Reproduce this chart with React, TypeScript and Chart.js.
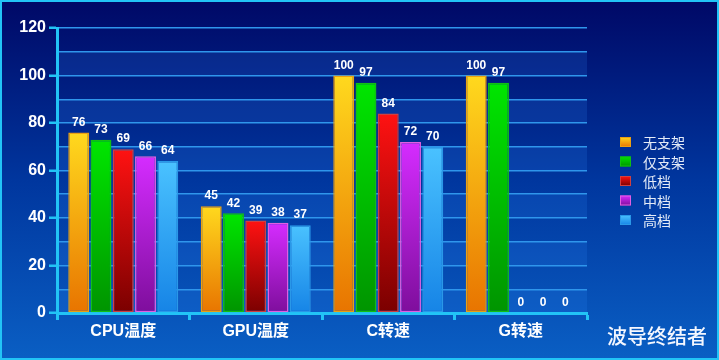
import React, { useEffect, useRef } from 'react';
import { Chart, registerables } from 'chart.js';

Chart.register(...registerables);

const categories = ['CPU温度', 'GPU温度', 'C转速', 'G转速'];
const seriesNames = ['无支架', '仅支架', '低档', '中档', '高档'];
const noBracket = [76, 45, 100, 100];
const bracketOnly = [73, 42, 97, 97];
const lowGear = [69, 39, 84, 0];
const midGear = [66, 38, 72, 0];
const highGear = [64, 37, 70, 0];
const yMax = 120;
const yStep = 10;
const yLabelStep = 20;
const watermark = '波导终结者';

const seriesValues = [noBracket, bracketOnly, lowGear, midGear, highGear];
const topColors = ['#ffd91e', '#00e600', '#ff1212', '#d52cff', '#4ac2ff'];
const bottomColors = ['#e87400', '#009400', '#7a0000', '#7e0e9c', '#1684e6'];
const borderColors = ['#eaa012', '#12c012', '#d04040', '#e060e0', '#2a98e8'];

const CYAN = '#22c4f6';
const GRID = '#2f96ec';
const FONT = "Arial, 'Liberation Sans', 'Noto Sans CJK SC', sans-serif";
const CJK = "'Noto Sans CJK SC', 'Noto Sans', sans-serif";

function gradFill(i: number) {
  return (ctx: any) => {
    const chart = ctx.chart;
    const y = chart.scales && chart.scales.y;
    if (!y || ctx.type !== 'data') return topColors[i];
    const v = ctx.raw as number;
    const y0 = y.getPixelForValue(v);
    const y1 = y.getPixelForValue(0);
    if (!isFinite(y0) || !isFinite(y1) || y1 - y0 < 1) return topColors[i];
    const g = chart.ctx.createLinearGradient(0, y0, 0, y1);
    g.addColorStop(0, topColors[i]);
    g.addColorStop(1, bottomColors[i]);
    return g;
  };
}

const backgroundPlugin = {
  id: 'bgFrame',
  beforeDraw(chart: any) {
    const { ctx, width, height, chartArea, scales } = chart;
    ctx.save();
    const g = ctx.createLinearGradient(0, 0, 0, height);
    g.addColorStop(0, '#000866');
    g.addColorStop(0.5, '#00369e');
    g.addColorStop(1, '#0a5fc4');
    ctx.fillStyle = g;
    ctx.fillRect(0, 0, width, height);
    // alternating bands
    const y = scales.y;
    ctx.fillStyle = 'rgba(50,140,255,0.16)';
    for (let v = 0; v < yMax; v += 2 * yStep) {
      const a = y.getPixelForValue(v);
      const b = y.getPixelForValue(v + yStep);
      ctx.fillRect(chartArea.left, b, chartArea.right - chartArea.left, a - b);
    }
    ctx.strokeStyle = CYAN;
    ctx.lineWidth = 2;
    ctx.strokeRect(1, 1, width - 2, height - 2);
    ctx.restore();
  },
};

const labelPlugin = {
  id: 'valueLabels',
  afterDatasetsDraw(chart: any) {
    const { ctx } = chart;
    ctx.save();
    ctx.fillStyle = '#ffffff';
    ctx.font = `bold 12px ${FONT}`;
    ctx.textAlign = 'center';
    ctx.textBaseline = 'bottom';
    chart.data.datasets.forEach((ds: any, i: number) => {
      const meta = chart.getDatasetMeta(i);
      meta.data.forEach((el: any, j: number) => {
        ctx.fillText(String(ds.data[j]), el.x, el.y - 4);
      });
    });
    ctx.restore();
  },
};

const legendPlugin = {
  id: 'sideLegend',
  afterDraw(chart: any) {
    const { ctx, width, height } = chart;
    ctx.save();
    seriesNames.forEach((name, i) => {
      const cy = 142 + i * 19.5;
      const x = 620;
      const g = ctx.createLinearGradient(0, cy - 5, 0, cy + 5);
      g.addColorStop(0, topColors[i]);
      g.addColorStop(1, bottomColors[i]);
      ctx.fillStyle = g;
      ctx.fillRect(x, cy - 5, 11, 10);
      ctx.strokeStyle = borderColors[i];
      ctx.lineWidth = 1;
      ctx.strokeRect(x + 0.5, cy - 4.5, 10, 9);
      ctx.fillStyle = '#e4ebf7';
      ctx.font = `14px ${CJK}`;
      ctx.textAlign = 'left';
      ctx.textBaseline = 'middle';
      ctx.fillText(name, 643, cy + 1);
    });
    ctx.fillStyle = '#f4f7ff';
    ctx.font = `500 20px ${CJK}`;
    ctx.textAlign = 'right';
    ctx.textBaseline = 'middle';
    ctx.fillText(watermark, 707, 336);
    ctx.restore();
  },
};

export default function App() {
  const ref = useRef<HTMLCanvasElement>(null);
  useEffect(() => {
    document.body.style.margin = '0';
    const canvas = ref.current!;
    const chart = new Chart(canvas, {
      type: 'bar',
      data: {
        labels: categories,
        datasets: seriesNames.map((name, i) => ({
          label: name,
          data: seriesValues[i],
          backgroundColor: gradFill(i),
          borderColor: borderColors[i],
          borderWidth: (c: any) => (c.raw === 0 ? 0 : 1.5),
          borderSkipped: false,
          categoryPercentage: 0.84,
          barPercentage: 0.94,
        })),
      },
      options: {
        responsive: false,
        animation: false,
        events: [],
        layout: { padding: { top: 28, right: 132, left: 0, bottom: 0 } },
        plugins: {
          legend: { display: false },
          tooltip: { enabled: false },
        },
        scales: {
          x: {
            afterFit: (s: any) => { s.height = 47; },
            grid: {
              display: true,
              drawOnChartArea: false,
              drawTicks: true,
              tickLength: 7,
              tickColor: CYAN,
              tickWidth: 3,
              offset: true,
            },
            border: { display: true, color: CYAN, width: 3 },
            ticks: {
              color: '#ffffff',
              font: { family: FONT, size: 16, weight: 'bold' },
              padding: 2,
            },
          },
          y: {
            min: 0,
            max: yMax,
            afterFit: (s: any) => { s.width = 57; },
            grid: {
              color: (c: any) => (c.tick && c.tick.value === 0 ? 'rgba(0,0,0,0)' : GRID),
              lineWidth: 1.5,
              drawTicks: true,
              tickLength: 8,
              tickWidth: 2.5,
              tickColor: (c: any) => (c.tick && c.tick.value % yLabelStep === 0 ? CYAN : 'rgba(0,0,0,0)'),
            },
            border: { display: true, color: CYAN, width: 3 },
            ticks: {
              stepSize: yStep,
              autoSkip: false,
              color: '#ffffff',
              padding: 3,
              font: { family: FONT, size: 16, weight: 'bold' },
              callback: (v: any) => (Number(v) % yLabelStep === 0 ? String(v) : ''),
            },
          },
        },
      },
      plugins: [backgroundPlugin, labelPlugin, legendPlugin],
    } as any);
    return () => chart.destroy();
  }, []);
  return (
    <div style={{ position: 'fixed', left: 0, top: 0, width: 719, height: 360 }}>
      <canvas ref={ref} width={719} height={360} style={{ display: 'block' }} />
    </div>
  );
}
